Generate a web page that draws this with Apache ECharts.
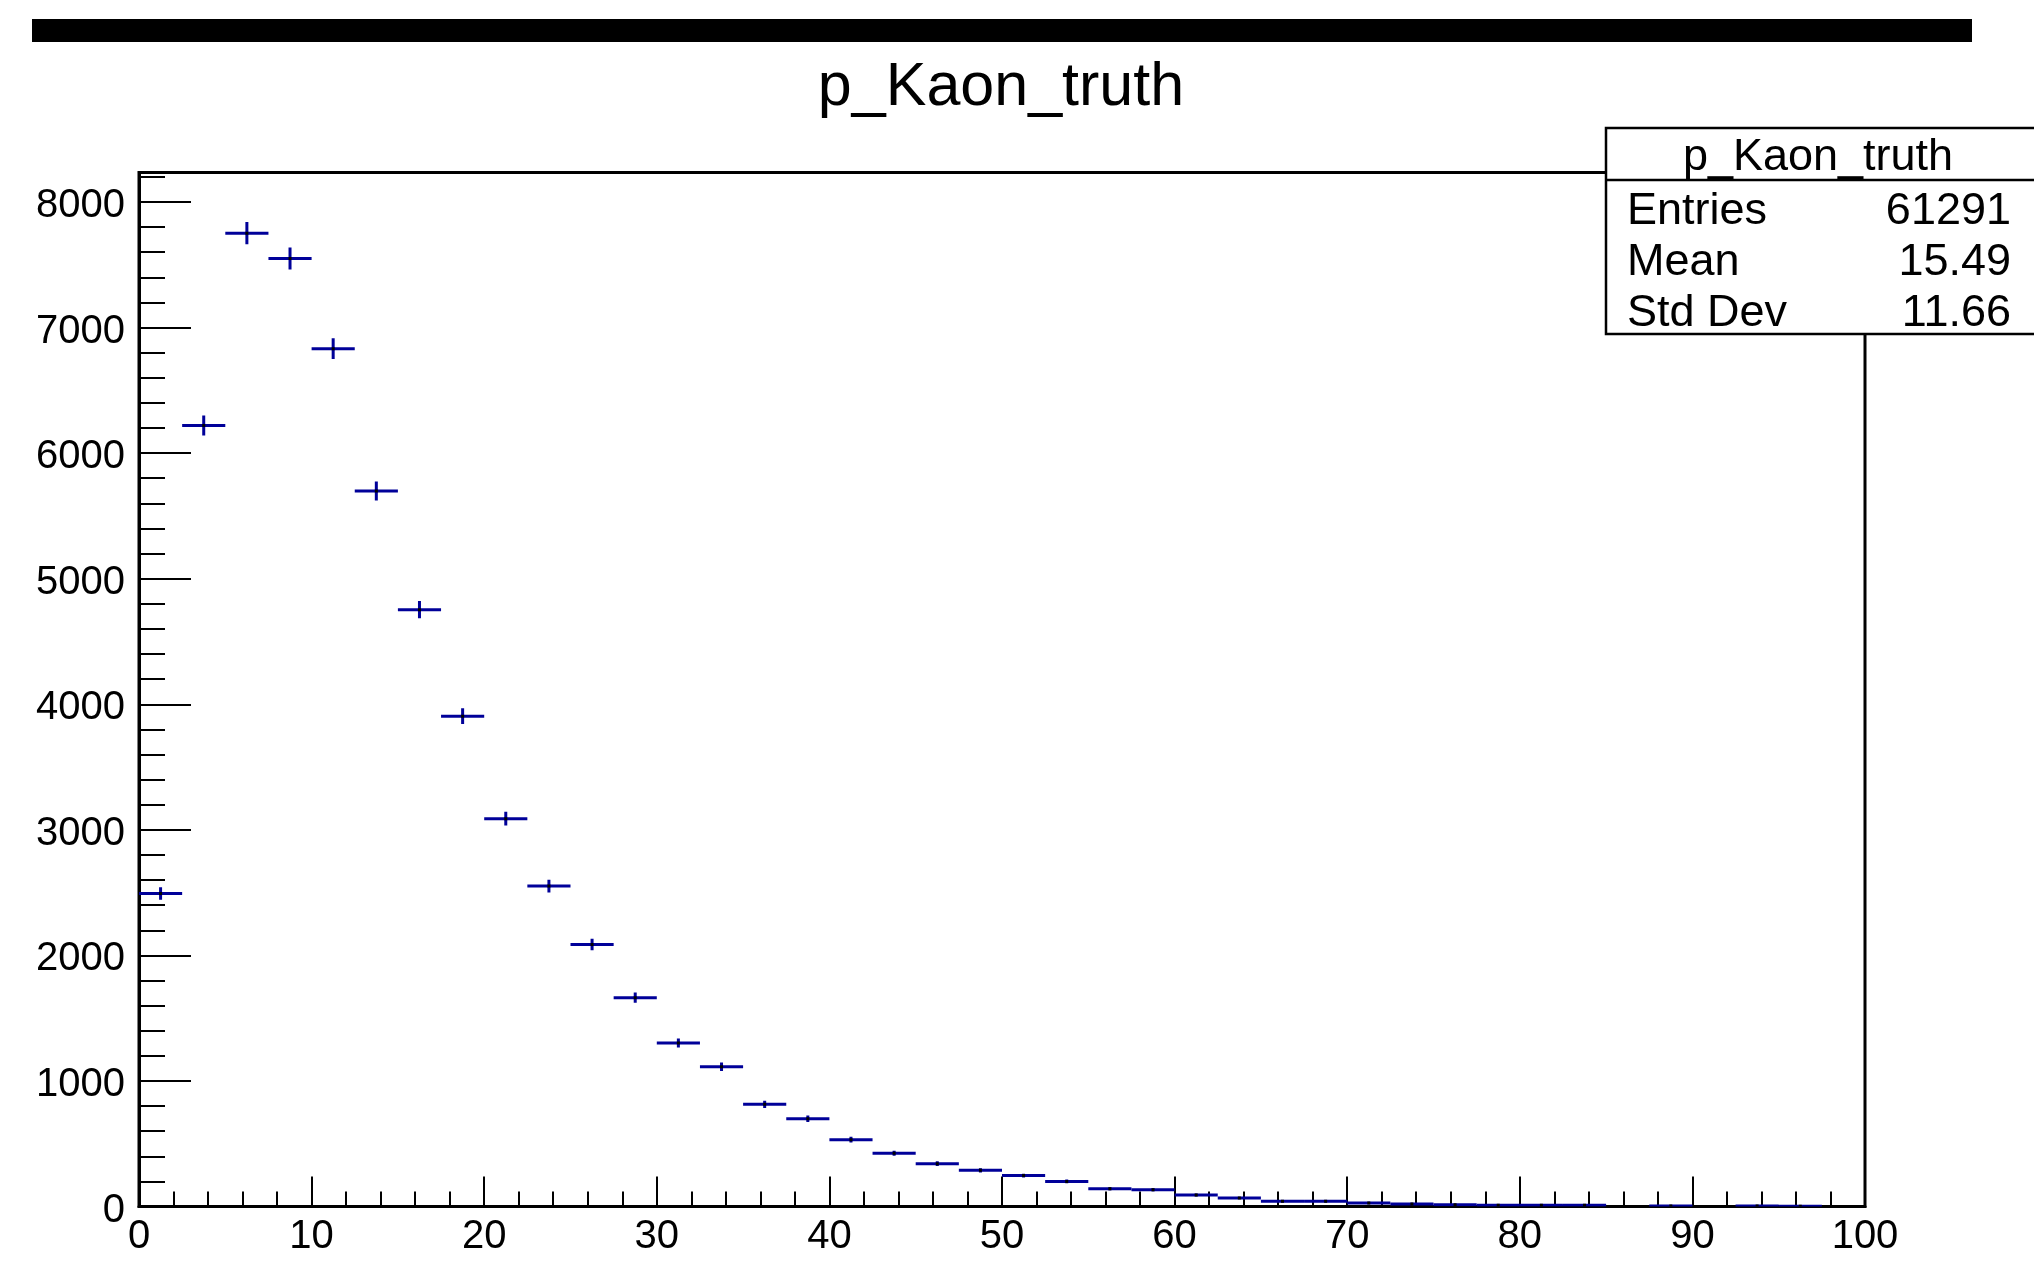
<!DOCTYPE html>
<html>
<head>
<meta charset="utf-8">
<script src="https://cdn.jsdelivr.net/npm/echarts@6/dist/echarts.min.js"></script>
<style>
  html, body { margin: 0; padding: 0; background: #fff; }
  #chart { width: 2034px; height: 1268px; }
</style>
</head>
<body>
<div id="chart"></div>
<script>
// ---- data ----
const histTitle = 'p_Kaon_truth';
const binWidth = 2.5;
const binCenters = [1.25, 3.75, 6.25, 8.75, 11.25, 13.75, 16.25, 18.75, 21.25, 23.75,
  26.25, 28.75, 31.25, 33.75, 36.25, 38.75, 41.25, 43.75, 46.25, 48.75,
  51.25, 53.75, 56.25, 58.75, 61.25, 63.75, 66.25, 68.75, 71.25, 73.75,
  76.25, 78.75, 81.25, 83.75, 86.25, 88.75, 91.25, 93.75, 96.25, 98.75];
const binCounts = [2493, 6220, 7752, 7550, 6832, 5699, 4753, 3905, 3089, 2552,
  2087, 1663, 1302, 1113, 814, 699, 532, 424, 341, 288,
  246, 200, 142, 134, 92, 68, 41, 41, 28, 19,
  14, 10, 9, 9, 0, 3, 0, 3, 2, 0];
const statLabels = ['Entries', 'Mean', 'Std Dev'];
const statValues = ['61291', '15.49', '11.66'];
const xTickInterval = 10;
const yTickInterval = 1000;
const yMinorInterval = 200;
const yMax = 8235;

const FONT = '"Liberation Sans", Arial, Helvetica, sans-serif';
const dataPts = binCenters.map((c, i) => [c, binCounts[i]]);

const chart = echarts.init(document.getElementById('chart'), null, { renderer: 'canvas' });

const statTexts = [];
statLabels.forEach((lab, i) => {
  const cy = 212 + i * 51;
  statTexts.push({
    type: 'text', z: 102, left: 1627, top: cy - 23,
    style: { text: lab, font: '45px ' + FONT, fill: '#000', verticalAlign: 'top', align: 'left' }
  });
  statTexts.push({
    type: 'text', z: 102, x: 2011, y: cy - 23,
    style: { text: statValues[i], font: '45px ' + FONT, fill: '#000', verticalAlign: 'top', align: 'right' }
  });
});

chart.setOption({
  animation: false,
  backgroundColor: '#fff',
  grid: {
    left: 139, right: 169, top: 172.5, bottom: 61.5,
    show: true, borderColor: '#000', borderWidth: 3, backgroundColor: 'transparent',
    containLabel: false, outerBoundsMode: 'none'
  },
  xAxis: {
    type: 'value', min: 0, max: 100, interval: xTickInterval,
    axisLine: { show: true, onZero: false, lineStyle: { color: '#000', width: 3 } },
    axisTick: { show: true, inside: true, length: 30, lineStyle: { color: '#000', width: 2 } },
    minorTick: { show: true, splitNumber: 5, length: 15, lineStyle: { color: '#000', width: 2 } },
    splitLine: { show: false },
    axisLabel: { color: '#000', fontSize: 40, fontFamily: FONT, margin: 10 }
  },
  yAxis: [
    {
      type: 'value', min: 0, max: yMax, interval: yTickInterval, position: 'left',
      axisLine: { show: true, onZero: false, lineStyle: { color: '#000', width: 3 } },
      axisTick: { show: true, inside: true, length: 52, lineStyle: { color: '#000', width: 2 } },
      splitLine: { show: false },
      axisLabel: { color: '#000', fontSize: 40, fontFamily: FONT, margin: 14, showMaxLabel: false,
        formatter: v => (v % yTickInterval === 0 ? '{t|' + v + '}' : ''),
        rich: { t: { fontSize: 40, fontFamily: FONT, color: '#000', padding: [8, 0, 0, 0] } } }
    },
    {
      type: 'value', min: 0, max: yMax, interval: yMinorInterval, position: 'left', offset: 0,
      axisLine: { show: false },
      axisTick: { show: true, inside: true, length: 26, lineStyle: { color: '#000', width: 2 } },
      splitLine: { show: false },
      axisLabel: { show: false }
    }
  ],
  graphic: [
    { type: 'rect', z: 100, shape: { x: 32, y: 19, width: 1940, height: 23 }, style: { fill: '#000' } },
    { type: 'text', z: 100, x: 1001, y: 88,
      style: { text: histTitle, font: '61px ' + FONT, fill: '#000', align: 'center', verticalAlign: 'middle' } },
    { type: 'rect', z: 101, shape: { x: 1606, y: 128, width: 500, height: 206 },
      style: { fill: '#fff', stroke: '#000', lineWidth: 2.5 } },
    { type: 'line', z: 102, shape: { x1: 1606, y1: 180, x2: 2040, y2: 180 },
      style: { stroke: '#000', lineWidth: 2.5 } },
    { type: 'text', z: 102, x: 1818, y: 158,
      style: { text: histTitle, font: '45px ' + FONT, fill: '#000', align: 'center', verticalAlign: 'middle' } },
    ...statTexts
  ],
  series: [{
    type: 'custom',
    xAxisIndex: 0, yAxisIndex: 0,
    clip: true,
    data: dataPts,
    renderItem: function (params, api) {
      const x = api.value(0), y = api.value(1);
      if (!(y > 0)) return null;
      const p = api.coord([x, y]);
      const pl = api.coord([x - binWidth / 2, y]);
      const pr = api.coord([x + binWidth / 2, y]);
      const err = Math.sqrt(y);
      const pt = api.coord([x, y + err]);
      const pb = api.coord([x, Math.max(0, y - err)]);
      return {
        type: 'group',
        children: [
          { type: 'line', shape: { x1: pl[0], y1: p[1], x2: pr[0], y2: p[1] },
            style: { stroke: '#000099', lineWidth: 3 } },
          { type: 'line', shape: { x1: p[0], y1: pt[1], x2: p[0], y2: pb[1] },
            style: { stroke: '#000099', lineWidth: 3 } },
          { type: 'rect', shape: { x: p[0] - 1.5, y: p[1] - 1.5, width: 3, height: 3 },
            style: { fill: '#000' } }
        ]
      };
    }
  }]
});
</script>
</body>
</html>
